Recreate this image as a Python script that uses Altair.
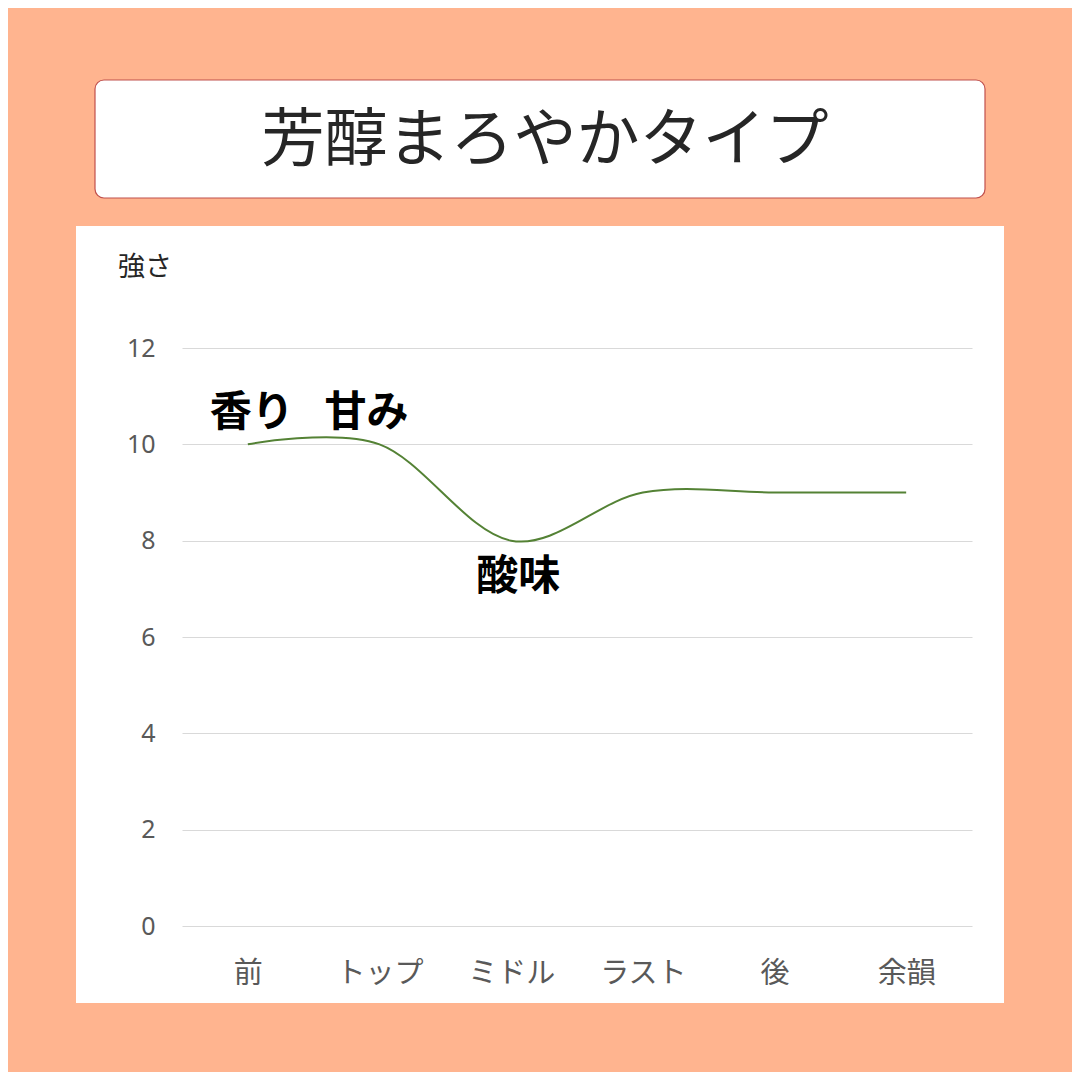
import altair as alt
import pandas as pd

# ---- data ----
stages = ["前", "トップ", "ミドル", "ラスト", "後", "余韻"]
strength = [10, 10, 8, 9, 9, 9]
y_ticks = [0, 2, 4, 6, 8, 10, 12]
title_text = "芳醇まろやかタイプ"
y_title = "強さ"
ann_labels = ["香り", "甘み", "酸味"]
ann_stage = ["前", "トップ", "ミドル"]
ann_value = [10, 10, 8]

SALMON = "#FFB48F"
FONT = "Noto Sans CJK JP"

df = pd.DataFrame({"stage": stages, "strength": strength})
one = pd.DataFrame({"k": [0]})

xscale = alt.Scale(domain=stages, padding=0.5)
yscale = alt.Scale(domain=[0, 12])

def band(x, x2, y, y2):
    return alt.Chart(one).mark_rect(color=SALMON).encode(
        x=alt.value(x), x2=alt.value(x2), y=alt.value(y), y2=alt.value(y2)
    )

bands = [
    band(-200, 920, -370, -122),
    band(-200, 920, 655, 760),
    band(-200, -106, -122, 655),
    band(822, 920, -122, 655),
]

title_box = alt.Chart(one).mark_rect(
    fill="white", stroke="#C0504D", strokeWidth=1.2, cornerRadius=9
).encode(x=alt.value(-87), x2=alt.value(803), y=alt.value(-268), y2=alt.value(-150))

title = alt.Chart(one).mark_text(
    text=title_text, font=FONT, fontSize=63, color="#262626", align="center", baseline="middle"
).encode(x=alt.value(363), y=alt.value(-207))

ytitle = alt.Chart(one).mark_text(
    text=y_title, font=FONT, fontSize=27, color="#262626", align="left", baseline="middle"
).encode(x=alt.value(-64), y=alt.value(-80))

line = alt.Chart(df).mark_line(
    interpolate="cardinal", tension=0, color="#548235", strokeWidth=2
).encode(
    x=alt.X("stage:N", scale=xscale, sort=stages,
            axis=alt.Axis(title=None, labelAngle=0, domain=False, ticks=False, grid=False,
                          labelFont=FONT, labelFontSize=29, labelColor="#595959",
                          labelPadding=33)),
    y=alt.Y("strength:Q", scale=yscale,
            axis=alt.Axis(title=None, values=y_ticks, domain=False, ticks=False, grid=True,
                          gridColor="#D9D9D9", gridWidth=1,
                          labelFont="Noto Sans", labelFontSize=25, labelColor="#595959",
                          labelPadding=27)),
)

ann_df = pd.DataFrame({"label": ann_labels, "stage": ann_stage, "v": ann_value})
offsets = [(4, -31), (-13, -31), (7, 36)]
anns = []
for i, (dx, dy) in enumerate(offsets):
    anns.append(
        alt.Chart(ann_df.iloc[[i]]).mark_text(
            font=FONT, fontSize=42, fontWeight="bold", color="#000000",
            align="center", baseline="middle", dx=dx, dy=dy
        ).encode(
            x=alt.X("stage:N", scale=xscale, sort=stages),
            y=alt.Y("v:Q", scale=yscale),
            text="label:N",
        )
    )

chart = alt.layer(*bands, title_box, title, ytitle, line, *anns).properties(
    width=790, height=578,
    padding={"left": 174, "top": 340, "right": 100, "bottom": 146},
    autosize="none",
    background="white",
).configure_view(stroke=None)

chart.save("out.html", embed_options={"renderer": "svg", "actions": False})
